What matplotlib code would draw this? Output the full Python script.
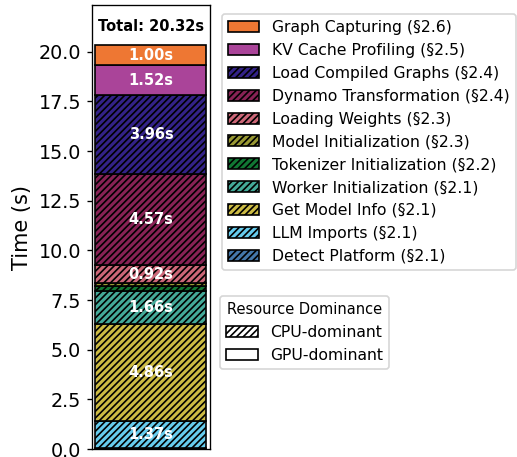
import matplotlib
matplotlib.use("Agg")
import matplotlib.pyplot as plt
from matplotlib.patches import Patch

# stages, bottom to top
stages = ["Detect Platform (§2.1)", "LLM Imports (§2.1)", "Get Model Info (§2.1)",
          "Worker Initialization (§2.1)", "Tokenizer Initialization (§2.2)",
          "Model Initialization (§2.3)", "Loading Weights (§2.3)",
          "Dynamo Transformation (§2.4)", "Load Compiled Graphs (§2.4)",
          "KV Cache Profiling (§2.5)", "Graph Capturing (§2.6)"]
times = [0.05, 1.37, 4.86, 1.66, 0.27, 0.14, 0.92, 4.57, 3.96, 1.52, 1.00]
cpu_bound = [True, True, True, True, True, True, True, True, True, False, False]
colors = ["#4477AA", "#66CCEE", "#CCBB44", "#44AA99", "#117733", "#999933",
          "#CC6677", "#882255", "#332288", "#AA4499", "#EE7733"]
total = 20.32

DPI = 120
HATCH = "//////"
fig = plt.figure(figsize=(517 / DPI, 457 / DPI), dpi=DPI)
ax = fig.add_axes([0.178, 0.0175, 0.228, 0.9715])

bottom = 0.0
handles = []
for name, t, cpu, c in zip(stages, times, cpu_bound, colors):
    hatch = HATCH if cpu else None
    ax.bar(0, t, width=0.8, bottom=bottom, color=c, edgecolor="black",
           linewidth=1.0, hatch=hatch)
    if t >= 0.5:
        ax.text(0, bottom + t / 2, f"{t:.2f}s", ha="center", va="center",
                color="white", fontsize=8.8, fontweight="bold")
    handles.append(Patch(facecolor=c, edgecolor="black", hatch=hatch, label=name))
    bottom += t

ax.text(0, total + 0.95, f"Total: {total:.2f}s", ha="center", va="center",
        fontsize=8.8, fontweight="bold")

ax.set_xlim(-0.425, 0.425)
ax.set_ylim(0, total * 1.1)
ax.set_xticks([])
ax.set_yticks([0, 2.5, 5, 7.5, 10, 12.5, 15, 17.5, 20])
ax.tick_params(axis="y", labelsize=11.5, length=3)
ax.set_ylabel("Time (s)", fontsize=12.5)

leg1 = ax.legend(handles=handles[::-1], loc="upper left", bbox_to_anchor=(1.10, 0.98),
                 fontsize=9.4, borderaxespad=0)
ax.add_artist(leg1)

res_handles = [Patch(facecolor="white", edgecolor="black", hatch=HATCH, label="CPU-dominant"),
               Patch(facecolor="white", edgecolor="black", label="GPU-dominant")]
ax.legend(handles=res_handles, loc="upper left", bbox_to_anchor=(1.085, 0.345),
          fontsize=9.4, title="Resource Dominance", title_fontsize=8.8,
          borderaxespad=0)

fig.savefig("out.png", dpi=DPI)
